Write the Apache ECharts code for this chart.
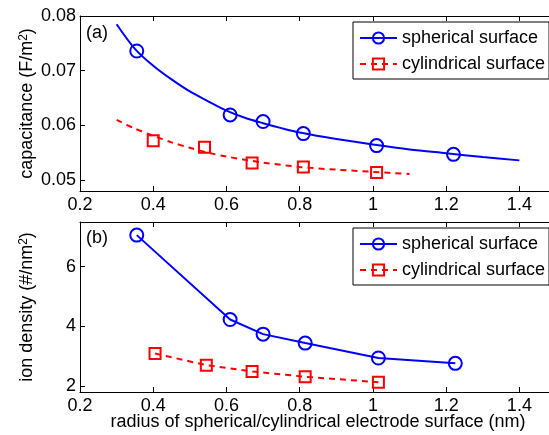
<!DOCTYPE html>
<html>
<head>
<meta charset="utf-8">
<script src="https://cdn.jsdelivr.net/npm/echarts@6/dist/echarts.min.js"></script>
<style>
  html, body { margin: 0; padding: 0; background: #fff; }
  #chart { width: 549px; height: 435px; }
</style>
</head>
<body>
<div id="chart"></div>
<script>
// (a) capacitance, fitted curves
const sphFitX = [0.3, 0.35, 0.4, 0.45, 0.5, 0.55, 0.6, 0.65, 0.7, 0.75, 0.8, 0.9, 1.0, 1.1, 1.2, 1.3, 1.4];
const sphFitY = [0.0785, 0.0740, 0.0709, 0.0684, 0.0662, 0.0644, 0.0627, 0.0614, 0.0604, 0.0595, 0.0587, 0.0575, 0.0565, 0.0556, 0.0549, 0.0542, 0.0536];
const cylFitX = [0.3, 0.35, 0.4, 0.45, 0.5, 0.55, 0.6, 0.7, 0.8, 0.9, 1.0, 1.1];
const cylFitY = [0.0610, 0.0594, 0.0581, 0.0569, 0.0559, 0.0550, 0.0543, 0.0532, 0.0524, 0.0519, 0.0515, 0.0511];

// (a) simulation points
const sphCapX = [0.355, 0.61, 0.70, 0.81, 1.01, 1.22];
const sphCapY = [0.0736, 0.0619, 0.0607, 0.0585, 0.0563, 0.0547];
const cylCapX = [0.40, 0.54, 0.67, 0.81, 1.01];
const cylCapY = [0.0572, 0.0560, 0.0531, 0.0524, 0.0514];

// (b) ion density
const sphIonX = [0.355, 0.61, 0.70, 0.815, 1.015, 1.225];
const sphIonY = [7.06, 4.23, 3.74, 3.44, 2.94, 2.76];
const cylIonX = [0.405, 0.545, 0.67, 0.815, 1.015];
const cylIonY = [3.09, 2.70, 2.49, 2.31, 2.13];

const xTicks = [0.2, 0.4, 0.6, 0.8, 1.0, 1.2, 1.4];
const capTicks = [0.05, 0.06, 0.07, 0.08];
const ionTicks = [2, 4, 6];

const BLUE = '#0000ff';
const RED = '#ff0000';
const FONT = 'Liberation Sans';

const zip = (xs, ys) => xs.map((x, i) => [x, ys[i]]);

function xAxis(gridIndex, top) {
  return {
    type: 'value', gridIndex, position: top ? 'top' : 'bottom',
    min: 0.2, max: 1.5,
    axisLine: { show: true, onZero: false, lineStyle: { color: '#000', width: 1 } },
    axisTick: { show: true, inside: true, length: 5, customValues: xTicks, lineStyle: { color: '#000' } },
    axisLabel: { show: !top, color: '#000', fontSize: 18, fontFamily: FONT, margin: 5, customValues: xTicks },
    splitLine: { show: false },
    name: (!top && gridIndex === 1) ? 'radius of spherical/cylindrical electrode surface (nm)' : '',
    nameLocation: 'middle', nameGap: 21, nameMoveOverlap: false,
    nameTextStyle: { color: '#000', fontSize: 18, fontFamily: FONT }
  };
}

function yAxis(gridIndex, min, max, ticks, name) {
  return {
    type: 'value', gridIndex, min, max,
    axisLine: { show: true, onZero: false, lineStyle: { color: '#000', width: 1 } },
    axisTick: { show: true, inside: true, length: 5, customValues: ticks, lineStyle: { color: '#000' } },
    axisLabel: { color: '#000', fontSize: 18, fontFamily: FONT, margin: 4, customValues: ticks },
    splitLine: { show: false },
    name, nameLocation: 'middle', nameGap: 44, nameMoveOverlap: false,
    nameTextStyle: {
      color: '#000', fontSize: 18, fontFamily: FONT,
      rich: { sup: { fontSize: 12, verticalAlign: 'top', fontFamily: FONT, color: '#000' } }
    }
  };
}

function legend(top) {
  return {
    left: 353, top, orient: 'vertical',
    data: ['spherical surface', 'cylindrical surface'],
    backgroundColor: '#fff', borderColor: '#000', borderWidth: 1, borderRadius: 0,
    padding: [7, 4, 6, 6], itemGap: 8, itemWidth: 37, itemHeight: 14,
    textStyle: { color: '#000', fontSize: 18, fontFamily: FONT },
    selectedMode: false
  };
}

const chart = echarts.init(document.getElementById('chart'));
chart.setOption({
  animation: false,
  textStyle: { fontFamily: FONT },
  title: [
    { text: '(a)', left: 81, top: 19, textStyle: { fontSize: 18, fontWeight: 'normal', color: '#000', fontFamily: FONT } },
    { text: '(b)', left: 81, top: 224, textStyle: { fontSize: 18, fontWeight: 'normal', color: '#000', fontFamily: FONT } }
  ],
  grid: [
    { left: 80, width: 476, top: 16, height: 175, outerBoundsMode: 'none' },
    { left: 80, width: 476, top: 222, height: 170, outerBoundsMode: 'none' }
  ],
  xAxis: [xAxis(0, false), xAxis(0, true), xAxis(1, false), xAxis(1, true)],
  yAxis: [
    yAxis(0, 0.048, 0.08, capTicks, 'capacitance (F/m{sup|2})'),
    yAxis(1, 1.8, 7.5, ionTicks, 'ion density (#/nm{sup|2})')
  ],
  legend: [legend(22), legend(228)],
  series: [
    {
      type: 'line', name: 'sph fit', xAxisIndex: 0, yAxisIndex: 0,
      data: zip(sphFitX, sphFitY), smooth: 0.3, showSymbol: false, silent: true,
      lineStyle: { color: BLUE, width: 2 }
    },
    {
      type: 'line', name: 'cyl fit', xAxisIndex: 0, yAxisIndex: 0,
      data: zip(cylFitX, cylFitY), smooth: 0.3, showSymbol: false, silent: true,
      lineStyle: { color: RED, width: 2, type: [6, 5] }
    },
    {
      type: 'scatter', name: 'sph cap', xAxisIndex: 0, yAxisIndex: 0,
      data: zip(sphCapX, sphCapY), symbol: 'circle', symbolSize: 13, silent: true,
      itemStyle: { color: 'none', borderColor: BLUE, borderWidth: 2, opacity: 1 }
    },
    {
      type: 'scatter', name: 'cyl cap', xAxisIndex: 0, yAxisIndex: 0,
      data: zip(cylCapX, cylCapY), symbol: 'rect', symbolSize: 11, silent: true,
      itemStyle: { color: 'none', borderColor: RED, borderWidth: 2, opacity: 1 }
    },
    {
      type: 'line', name: 'spherical surface', xAxisIndex: 2, yAxisIndex: 1,
      data: zip(sphIonX, sphIonY), symbol: 'circle', symbolSize: 13, showAllSymbol: true,
      itemStyle: { color: 'none', borderColor: BLUE, borderWidth: 2 },
      lineStyle: { color: BLUE, width: 2 }
    },
    {
      type: 'line', name: 'cylindrical surface', xAxisIndex: 2, yAxisIndex: 1,
      data: zip(cylIonX, cylIonY), symbol: 'rect', symbolSize: 11, showAllSymbol: true,
      itemStyle: { color: 'none', borderColor: RED, borderWidth: 2 },
      lineStyle: { color: RED, width: 2, type: [6, 5] }
    }
  ]
});
</script>
</body>
</html>
